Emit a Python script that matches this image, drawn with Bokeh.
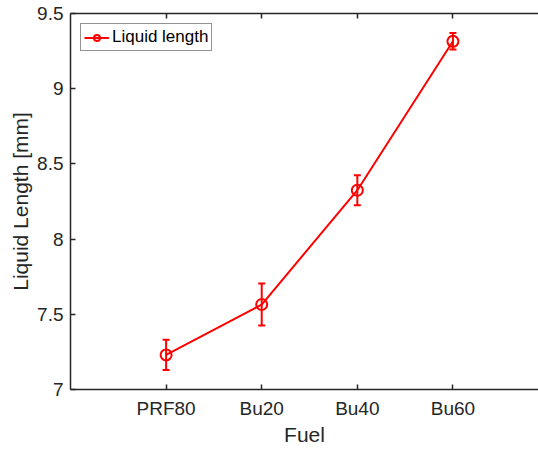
from bokeh.plotting import figure
from bokeh.models import (Range1d, FixedTicker, LinearAxis, Whisker, TeeHead,
                          ColumnDataSource, Legend, LegendItem, CustomJSTickFormatter)
from bokeh.embed import file_html
from bokeh.resources import INLINE

fuels = ["PRF80", "Bu20", "Bu40", "Bu60"]
liquid_length = [7.23, 7.565, 8.325, 9.315]
liquid_err = [0.10, 0.14, 0.10, 0.055]
y_ticks = [7, 7.5, 8, 8.5, 9, 9.5]

x = list(range(1, len(fuels) + 1))
src = ColumnDataSource(dict(
    x=x, y=liquid_length,
    upper=[v + e for v, e in zip(liquid_length, liquid_err)],
    lower=[v - e for v, e in zip(liquid_length, liquid_err)],
))

AX = "#262626"
FONT = "Liberation Sans"
RED = "#ff0000"

p = figure(width=538, height=450, x_range=Range1d(0, 4.895), y_range=Range1d(7, 9.5),
           output_backend="svg", toolbar_location=None,
           min_border_left=70, min_border_top=13, min_border_right=0, min_border_bottom=61)
p.outline_line_color = None
p.grid.visible = False
p.background_fill_color = "white"

for ax in (p.xaxis[0], p.yaxis[0]):
    ax.axis_line_color = AX
    ax.axis_line_width = 1.5
    ax.major_tick_line_color = AX
    ax.major_tick_line_width = 1.5
    ax.major_tick_in = 5
    ax.major_tick_out = 0
    ax.minor_tick_line_color = None
    ax.major_label_text_font = FONT
    ax.major_label_text_font_size = "19px"
    ax.major_label_text_color = AX
    ax.axis_label_text_font = FONT
    ax.axis_label_text_font_size = "21px"
    ax.axis_label_text_font_style = "normal"
    ax.axis_label_text_color = AX

p.xaxis.ticker = FixedTicker(ticks=x)
p.xaxis.major_label_overrides = {i: f for i, f in zip(x, fuels)}
p.xaxis.axis_label = "Fuel"
p.xaxis.major_label_standoff = 8
p.xaxis.axis_label_standoff = 1

p.yaxis.ticker = FixedTicker(ticks=y_ticks)
p.yaxis.formatter = CustomJSTickFormatter(code="return tick.toString();")
p.yaxis.axis_label = "Liquid Length [mm]"
p.yaxis.major_label_standoff = 7
p.yaxis.axis_label_standoff = 2

top = LinearAxis(ticker=FixedTicker(ticks=x), major_label_text_font_size="1px",
                 major_label_text_color=None,
                 major_tick_in=5, major_tick_out=0, minor_tick_line_color=None,
                 axis_line_color=AX, axis_line_width=1.5, major_tick_line_color=AX,
                 major_tick_line_width=1.5, major_label_standoff=0)
p.add_layout(top, "above")

ln = p.line("x", "y", source=src, line_color=RED, line_width=2)
sc = p.scatter("x", "y", source=src, marker="circle", size=11, fill_color=None,
               line_color=RED, line_width=2)
wh = Whisker(base="x", upper="upper", lower="lower", source=src,
             line_color=RED, line_width=2,
             upper_head=TeeHead(size=7, line_color=RED, line_width=2),
             lower_head=TeeHead(size=7, line_color=RED, line_width=2))
p.add_layout(wh)

leg = Legend(items=[LegendItem(label="Liquid length", renderers=[ln, sc])],
             location="top_left", margin=10, padding=3, spacing=0,
             glyph_width=25, glyph_height=15, label_height=15, label_standoff=3,
             label_text_font=FONT, label_text_font_size="17px", label_text_color="black",
             border_line_color=AX, border_line_width=1.2, background_fill_alpha=1)
p.add_layout(leg)

open("out.html", "w").write(file_html(p, INLINE))
